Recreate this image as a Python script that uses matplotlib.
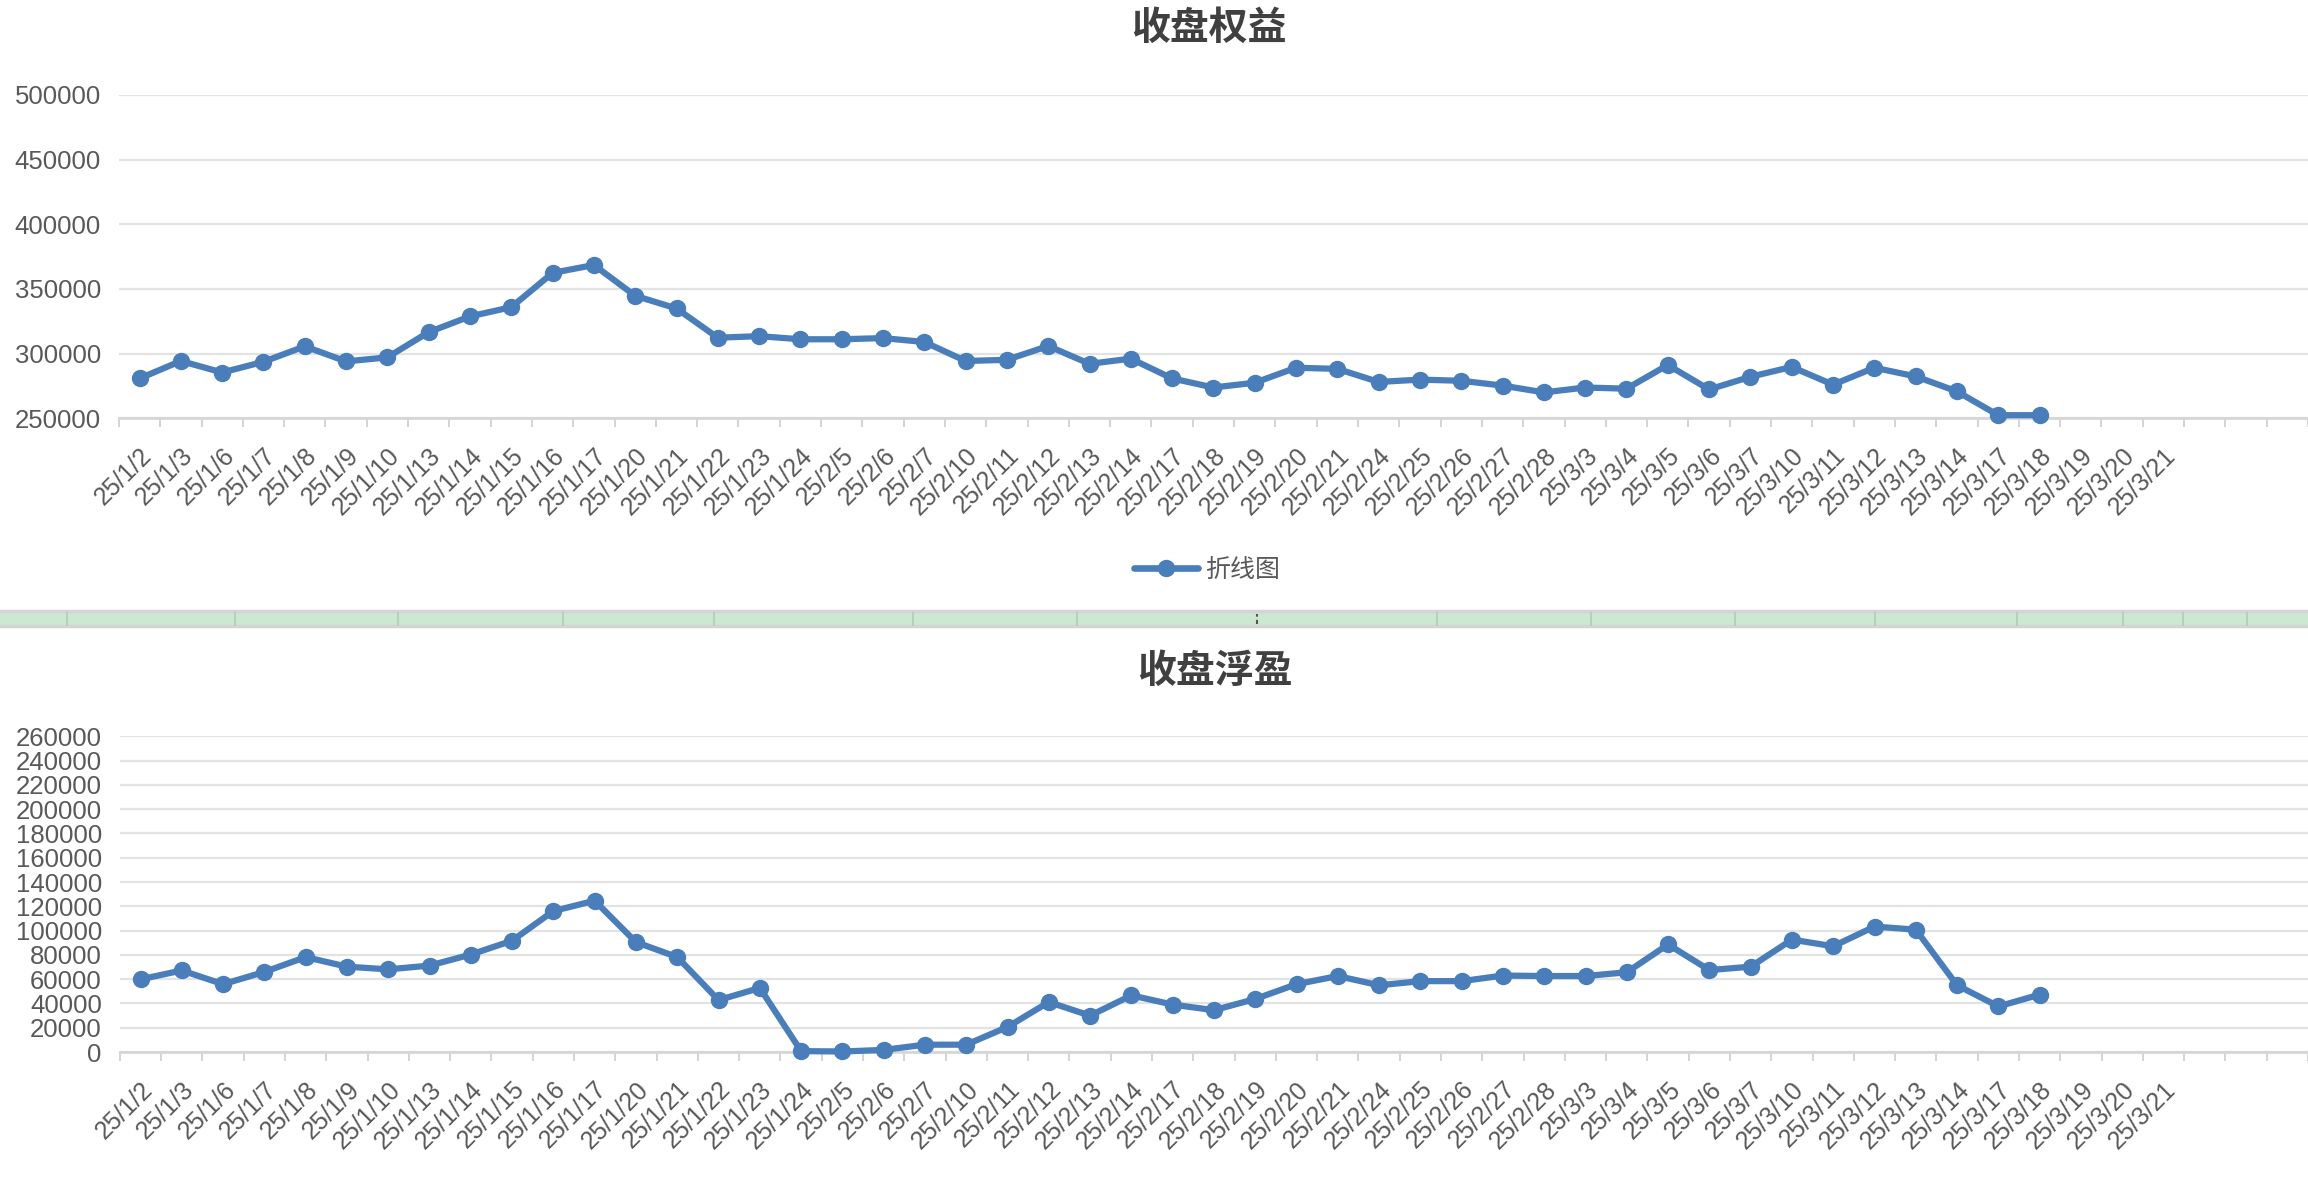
import matplotlib
matplotlib.use('Agg')
import matplotlib.pyplot as plt
import matplotlib.transforms as mtransforms
from matplotlib.patches import Rectangle
from matplotlib.lines import Line2D

plt.rcParams['font.family'] = ['Liberation Sans', 'Noto Sans CJK SC', 'DejaVu Sans']

# trading days shown on the category axis (3 trailing empty slots)
dates = ['25/1/2', '25/1/3', '25/1/6', '25/1/7', '25/1/8', '25/1/9', '25/1/10',
         '25/1/13', '25/1/14', '25/1/15', '25/1/16', '25/1/17', '25/1/20',
         '25/1/21', '25/1/22', '25/1/23', '25/1/24', '25/2/5', '25/2/6', '25/2/7',
         '25/2/10', '25/2/11', '25/2/12', '25/2/13', '25/2/14', '25/2/17',
         '25/2/18', '25/2/19', '25/2/20', '25/2/21', '25/2/24', '25/2/25',
         '25/2/26', '25/2/27', '25/2/28', '25/3/3', '25/3/4', '25/3/5', '25/3/6',
         '25/3/7', '25/3/10', '25/3/11', '25/3/12', '25/3/13', '25/3/14',
         '25/3/17', '25/3/18', '25/3/19', '25/3/20', '25/3/21', '', '', '']

# 收盘权益
equity = [280800, 294300, 285400, 293700, 305600, 294000, 297100, 316600,
          328800, 335900, 362400, 368500, 344700, 334900, 312300, 313500,
          311100, 311100, 312000, 309000, 294300, 295200, 305900, 292100,
          296100, 280800, 273800, 277500, 289100, 288200, 278100, 279900,
          279000, 275300, 270000, 273800, 272900, 291200, 272300, 282100,
          289700, 276000, 289100, 282400, 270800, 252400, 252400]

# 收盘浮盈
float_pnl = [59900, 67200, 55900, 66000, 78200, 70300, 68100, 71200, 80300,
             91700, 116100, 124600, 90500, 78200, 42800, 52800, 800, 500,
             1800, 6100, 6100, 20700, 41200, 30000, 46700, 39100, 34500, 43700,
             55900, 62600, 55000, 58400, 58400, 63000, 62600, 62600, 65700,
             88600, 67500, 70300, 92600, 87100, 103300, 100800, 55000, 37600,
             47300]

# spreadsheet column separators visible in the green strip between charts
band_cols = [67, 235, 398, 563, 714, 913, 1077, 1437, 1591, 1735, 1875,
             2017, 2123, 2183, 2247]

W, H = 2308, 1182
LINE = '#4A7EBB'
TXT = '#595959'
GRID = '#E3E3E3'
AXC = '#D6D6D6'

fig = plt.figure(figsize=(W / 100, H / 100), dpi=100)


def box(x0, y0, x1, y1):
    return [x0 / W, 1 - y1 / H, (x1 - x0) / W, (y1 - y0) / H]


def make_chart(rect, values, ylo, yhi, step, xmax):
    ax = fig.add_axes(rect)
    n = len(dates)
    ax.plot(range(len(values)), values, color=LINE, lw=4.5, marker='o',
            ms=11.5, solid_joinstyle='round', solid_capstyle='round',
            clip_on=False, zorder=3)
    ax.set_xlim(-0.5, xmax)
    ax.set_ylim(ylo, yhi)
    ax.set_yticks(range(ylo, yhi + 1, step))
    ax.set_xticks(range(n))
    ax.set_xticks([i - 0.5 for i in range(n + 1)], minor=True)
    ax.set_xticklabels(dates, rotation=45, ha='right', va='top',
                       rotation_mode='anchor')
    shift = mtransforms.ScaledTranslation(2 / 100, 0, fig.dpi_scale_trans)
    for lab in ax.get_xticklabels():
        lab.set_transform(lab.get_transform() + shift)
    ax.tick_params(axis='x', which='major', length=0, pad=18,
                   labelsize=18, labelcolor=TXT)
    ax.tick_params(axis='x', which='minor', length=6.5, width=1.5, color=AXC)
    ax.tick_params(axis='y', length=0, pad=13, labelsize=18.5, labelcolor=TXT)
    for s in ['top', 'right', 'left']:
        ax.spines[s].set_visible(False)
    ax.spines['bottom'].set_color(AXC)
    ax.spines['bottom'].set_linewidth(2)
    ax.grid(axis='y', color=GRID, lw=1.6)
    ax.set_axisbelow(True)
    return ax


ax1 = make_chart(box(118.9, 94.9, W, 418.3), equity, 250000, 500000, 50000,
                 -0.5 + (W - 118.9) / 41.35)
ax2 = make_chart(box(119.9, 736.2, W, 1052.1), float_pnl, 0, 260000, 20000,
                 -0.5 + (W - 119.9) / 41.57)

fig.text(1209 / W, 1 - 28 / H, '收盘权益', ha='center', va='center',
         fontsize=28, fontweight='bold', color='#404040',
         family=['Noto Sans CJK SC', 'DejaVu Sans'])
fig.text(1215 / W, 1 - 671 / H, '收盘浮盈', ha='center', va='center',
         fontsize=28, fontweight='bold', color='#404040',
         family=['Noto Sans CJK SC', 'DejaVu Sans'])

handle = Line2D([], [], color=LINE, lw=4.8, marker='o', ms=11.5,
                solid_capstyle='round')
leg = ax1.legend([handle], ['折线图'], loc='center',
                 bbox_to_anchor=(1207 / W, 1 - 570 / H),
                 bbox_transform=fig.transFigure, frameon=False,
                 handlelength=2.56, handletextpad=0.25, borderpad=0,
                 prop={'family': ['Noto Sans CJK SC', 'DejaVu Sans'], 'size': 18})
for t in leg.get_texts():
    t.set_color(TXT)

# green spreadsheet strip between the two charts
fig.patches.append(Rectangle((0, 1 - 626 / H), 1, 15 / H,
                             transform=fig.transFigure, facecolor='#CDE8D0',
                             edgecolor='none', zorder=0))
for yy in (611, 626):
    fig.add_artist(Line2D([0, 1], [1 - yy / H] * 2, transform=fig.transFigure,
                          color='#D4D4D4', lw=2.5))
for xx in band_cols:
    fig.add_artist(Line2D([xx / W] * 2, [1 - 625 / H, 1 - 613 / H],
                          transform=fig.transFigure, color='#B9CFBC', lw=1.5))
fig.add_artist(Line2D([1257 / W] * 2, [1 - 624 / H, 1 - 614 / H],
                      transform=fig.transFigure, color='#555555', lw=1.5,
                      ls=(0, (2, 1.5))))

fig.savefig('out.png', dpi=100)
